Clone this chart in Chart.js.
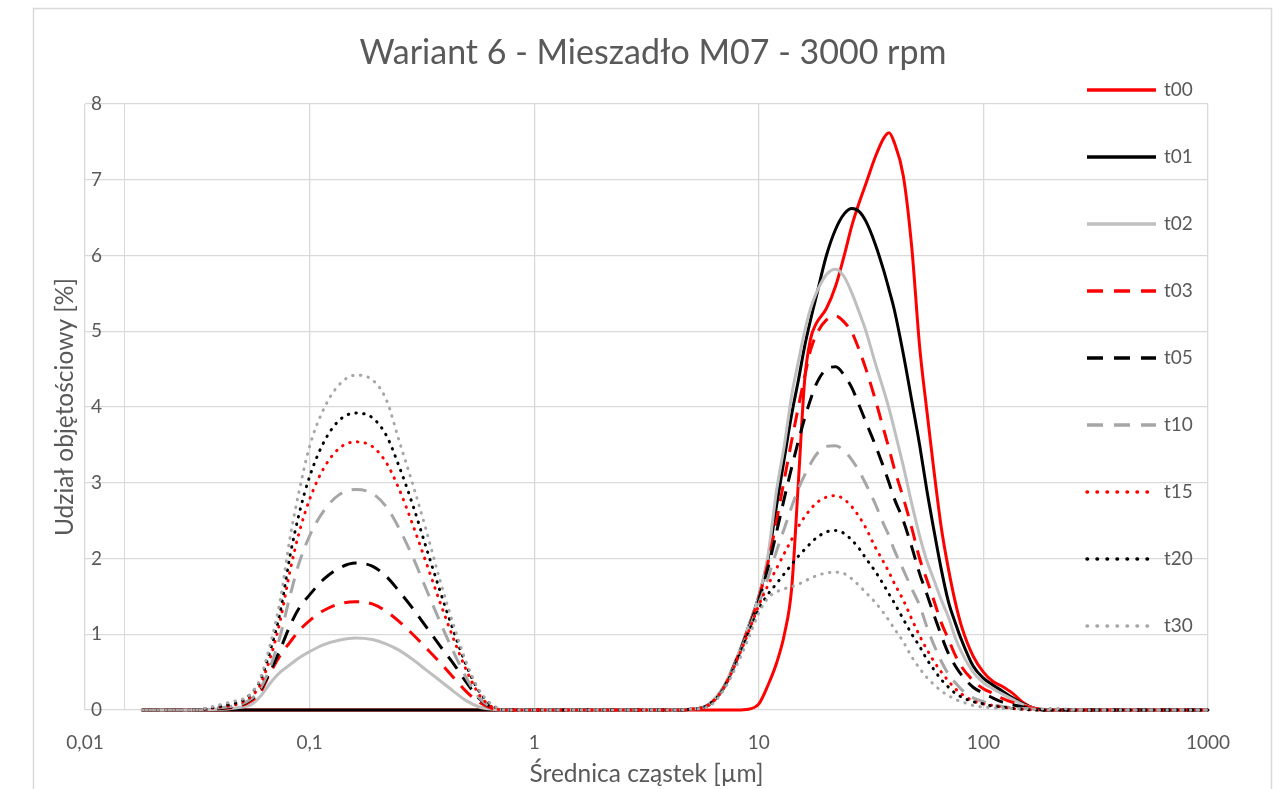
<!DOCTYPE html>
<html><head><meta charset="utf-8">
<script src="https://cdn.jsdelivr.net/npm/chart.js@4.4.1/dist/chart.umd.min.js"></script>
<style>html,body{margin:0;padding:0;background:#fff;overflow:hidden}canvas{display:block}</style>
</head><body>
<canvas id="c" width="1273" height="789"></canvas>
<script>
// particle sizes [µm]
const sizes = [
  0.018, 0.03, 0.04, 0.045, 0.05, 0.055, 0.06, 0.067, 0.074, 0.082, 0.09, 0.1, 0.115, 0.135,
  0.16, 0.19, 0.22, 0.25, 0.29, 0.33, 0.38, 0.44, 0.5, 0.57, 0.65, 0.75, 1, 2,
  4, 5, 6, 7, 8, 9, 10, 11, 12, 13, 14, 15, 16, 17, 18,
  20, 22, 24, 26, 28, 30,
  33, 36, 38, 40,
  44, 48, 52, 56, 60,
  65, 70, 75, 80,
  90, 100, 110, 120,
  135, 150, 170, 200,
  300, 500, 1000
];
const seriesNames = ['t00','t01','t02','t03','t05','t10','t15','t20','t30'];

const t00 = [
  0,0,0,0,0,0,0,0,0,0,0,0,0,0,
  0,0,0,0,0,0,0,0,0,0,0,0,0,0,
  0,0,0,0,0, 0.01,0.08,0.33,0.62,1.0, 1.6,3.0,4.35,4.9,5.1,
  5.3,5.6,6.0,6.4,6.7,6.95,
  7.3,7.55,7.62,7.5,
  7.05,6.1,4.8,3.95,3.2,
  2.4,1.85,1.42,1.1,
  0.71,0.5,0.38,0.32,
  0.22,0.1,0.02,0,
  0,0,0
];
const t01 = [
  0,0,0,0,0,0,0,0,0,0,0,0,0,0,
  0,0,0,0,0,0,0,0,0,0,0,0,0,0,
  0,0.01,0.07,0.3,0.68, 1.1,1.5,2.0,2.7,3.33, 3.9,4.35,4.8,5.15,5.45,
  6.0,6.35,6.55,6.62,6.58,6.45,
  6.15,5.8,5.55,5.3,
  4.7,4.08,3.5,2.9,2.4,
  1.85,1.42,1.15,0.92,
  0.58,0.42,0.33,0.26,
  0.16,0.08,0.02,0,
  0,0,0
];
const t02 = [
  0,0,0.01,0.02,0.04,0.07,0.17,0.36,0.5,0.6,0.69,0.77,0.86,0.92,
  0.95,0.93,0.87,0.79,0.66,0.53,0.39,0.24,0.12,0.04,0.01,0,0,0,
  0,0.01,0.08,0.32,0.7, 1.1,1.5,2.05,2.9,3.5, 4.15,4.6,5.0,5.3,5.5,
  5.75,5.82,5.72,5.5,5.25,5.0,
  4.58,4.22,3.98,3.72,
  3.22,2.72,2.3,1.97,1.73,
  1.45,1.22,0.95,0.76,
  0.5,0.36,0.28,0.22,
  0.14,0.07,0.02,0,
  0,0,0
];
const t03 = [
  0,0,0.02,0.03,0.06,0.12,0.22,0.5,0.72,0.9,1.05,1.18,1.31,1.4,
  1.43,1.4,1.3,1.17,0.99,0.82,0.63,0.42,0.24,0.1,0.02,0,0,0,
  0,0.01,0.07,0.3,0.68, 1.08,1.48,1.95,2.5,3.05, 3.55,4.0,4.4,4.75,4.95,
  5.15,5.2,5.12,4.98,4.75,4.5,
  4.1,3.7,3.45,3.2,
  2.8,2.4,2.0,1.72,1.46,
  1.15,0.93,0.72,0.57,
  0.39,0.28,0.22,0.16,
  0.1,0.06,0.02,0,
  0,0,0
];
const t05 = [
  0,0,0.02,0.04,0.07,0.14,0.25,0.52,0.8,1.12,1.35,1.52,1.72,1.87,
  1.94,1.9,1.76,1.57,1.33,1.1,0.85,0.6,0.36,0.15,0.03,0,0,0,
  0,0.01,0.07,0.3,0.68, 1.07,1.45,1.88,2.35,2.8, 3.2,3.55,3.85,4.1,4.3,
  4.5,4.53,4.42,4.25,4.02,3.8,
  3.5,3.2,3.0,2.8,
  2.5,2.15,1.8,1.53,1.27,
  0.98,0.74,0.58,0.46,
  0.3,0.22,0.16,0.11,
  0.07,0.04,0.01,0,
  0,0,0
];
const t10 = [
  0,0,0.03,0.05,0.08,0.15,0.27,0.58,0.98,1.52,1.95,2.3,2.62,2.84,
  2.91,2.86,2.68,2.4,2.0,1.6,1.17,0.75,0.42,0.16,0.03,0,0,0,
  0,0.01,0.07,0.3,0.67, 1.05,1.4,1.75,2.1,2.4, 2.68,2.92,3.1,3.25,3.37,
  3.48,3.49,3.42,3.3,3.15,2.98,
  2.72,2.45,2.3,2.12,
  1.85,1.6,1.38,1.1,0.87,
  0.64,0.47,0.36,0.27,
  0.16,0.11,0.07,0.05,
  0.03,0.02,0.01,0,
  0,0,0
];
const t15 = [
  0,0,0.04,0.06,0.1,0.18,0.32,0.7,1.18,1.85,2.35,2.78,3.18,3.45,
  3.54,3.48,3.26,2.92,2.42,1.95,1.43,0.92,0.52,0.2,0.04,0,0,0,
  0,0.01,0.07,0.3,0.66, 1.03,1.38,1.65,1.87,2.07, 2.25,2.42,2.55,2.65,2.73,
  2.81,2.83,2.78,2.68,2.55,2.4,
  2.15,1.95,1.82,1.68,
  1.45,1.2,0.98,0.8,0.65,
  0.5,0.38,0.28,0.21,
  0.12,0.08,0.06,0.04,
  0.02,0.01,0,0,
  0,0,0
];
const t20 = [
  0,0,0.05,0.08,0.12,0.22,0.38,0.8,1.3,2.05,2.6,3.08,3.52,3.82,
  3.92,3.86,3.62,3.22,2.68,2.15,1.58,1.02,0.58,0.24,0.06,0,0,0,
  0,0.01,0.07,0.29,0.65, 1.02,1.33,1.53,1.67,1.8, 1.92,2.03,2.12,2.2,2.27,
  2.35,2.37,2.33,2.24,2.13,2.0,
  1.83,1.65,1.53,1.42,
  1.2,1.0,0.84,0.67,0.54,
  0.4,0.3,0.22,0.17,
  0.11,0.08,0.05,0.04,
  0.02,0.01,0,0,
  0,0,0
];
const t30 = [
  0,0,0.07,0.11,0.14,0.22,0.4,0.88,1.45,2.29,2.9,3.48,3.96,4.29,
  4.42,4.36,4.09,3.56,2.95,2.38,1.72,1.1,0.62,0.26,0.07,0,0,0,
  0,0.01,0.05,0.27,0.6, 0.95,1.28,1.48,1.56,1.6, 1.63,1.66,1.7,1.74,1.77,
  1.81,1.82,1.8,1.73,1.64,1.55,
  1.42,1.28,1.18,1.08,
  0.9,0.7,0.55,0.43,0.34,
  0.25,0.19,0.14,0.11,
  0.06,0.04,0.03,0.02,
  0.02,0.02,0.01,0.02,
  0,0,0
];
const seriesValues = [t00, t01, t02, t03, t05, t10, t15, t20, t30];

const xTickValues = [0.01, 0.1, 1, 10, 100, 1000];
const xTickLabels = ['0,01', '0,1', '1', '10', '100', '1000'];
const yTickValues = [0, 1, 2, 3, 4, 5, 6, 7, 8];

const chartTitle = 'Wariant 6 - Mieszadło M07 - 3000 rpm';
const xTitle = 'Średnica cząstek [µm]';
const yTitle = 'Udział objętościowy [%]';

// ---- styles ----
const FONT = 'Lato, "Open Sans", sans-serif';
const TXT = '#595959';
const GRID = '#d9d9d9';
const RED = '#ff0000', BLACK = '#000000', LGRAY = '#bfbfbf', GRAY = '#a6a6a6';
const DASH = [15, 10], DOT = [0.5, 7.3];
const styles = [
  {color: RED, dash: [], cap: 'butt'},
  {color: BLACK, dash: [], cap: 'butt'},
  {color: LGRAY, dash: [], cap: 'butt'},
  {color: RED, dash: DASH, cap: 'butt'},
  {color: BLACK, dash: DASH, cap: 'butt'},
  {color: GRAY, dash: DASH, cap: 'butt'},
  {color: RED, dash: DOT, cap: 'round'},
  {color: BLACK, dash: DOT, cap: 'round'},
  {color: GRAY, dash: DOT, cap: 'round'}
];

const datasets = seriesNames.map((name, i) => ({
  label: name,
  data: sizes.map((s, j) => ({x: s, y: seriesValues[i][j]})),
  borderColor: styles[i].color,
  backgroundColor: styles[i].color,
  borderWidth: 3,
  borderDash: styles[i].dash,
  borderCapStyle: styles[i].cap,
  borderJoinStyle: 'round',
  pointRadius: 0,
  pointHoverRadius: 0,
  fill: false,
  cubicInterpolationMode: 'monotone',
  clip: 8,
  order: seriesNames.length - i
}));

const decor = {
  id: 'decor',
  beforeDraw(chart) {
    const ctx = chart.ctx;
    ctx.save();
    ctx.fillStyle = '#ffffff';
    ctx.fillRect(0, 0, chart.width, chart.height);
    ctx.strokeStyle = GRID;
    ctx.lineWidth = 1.5;
    ctx.strokeRect(33.5, 8.5, 1238, 820);
    ctx.restore();
  },
  beforeDatasetsDraw(chart) {
    const {ctx, chartArea: a} = chart;
    ctx.save();
    ctx.strokeStyle = GRID;
    ctx.lineWidth = 1;
    ctx.beginPath();
    ctx.moveTo(a.left + 39.5, a.top);
    ctx.lineTo(a.left + 39.5, a.bottom);
    ctx.stroke();
    ctx.restore();
  },
  afterDraw(chart) {
    const ctx = chart.ctx;
    ctx.save();
    ctx.fillStyle = TXT;
    ctx.font = '34px ' + FONT;
    ctx.textAlign = 'center';
    ctx.textBaseline = 'middle';
    ctx.fillText(chartTitle, 653, 53);
    ctx.font = '19px ' + FONT;
    ctx.textAlign = 'left';
    seriesNames.forEach((name, i) => {
      const y = 90 + 67 * i;
      ctx.strokeStyle = styles[i].color;
      ctx.lineWidth = 3.5;
      ctx.setLineDash(styles[i].dash.length ? (styles[i].cap === 'round' ? [0.5, 9.5] : [16, 11]) : []);
      ctx.lineCap = styles[i].cap;
      ctx.beginPath();
      ctx.moveTo(1087, y);
      ctx.lineTo(1156, y);
      ctx.stroke();
      ctx.fillStyle = TXT;
      ctx.fillText(name, 1164, y);
    });
    ctx.restore();
  }
};

new Chart(document.getElementById('c'), {
  type: 'line',
  data: {datasets},
  plugins: [decor],
  options: {
    responsive: false,
    animation: false,
    devicePixelRatio: 1,
    layout: {padding: {top: 104, right: 65, bottom: 0, left: 0}},
    plugins: {legend: {display: false}, title: {display: false}, tooltip: {enabled: false}},
    scales: {
      x: {
        type: 'logarithmic',
        min: 0.01, max: 1000,
        afterBuildTicks: s => { s.ticks = xTickValues.map(v => ({value: v})); },
        afterFit: s => { s.height = 79; },
        ticks: {
          callback: (v, i) => xTickLabels[i],
          font: {family: FONT, size: 19}, color: TXT, padding: 21,
          maxRotation: 0, autoSkip: false
        },
        grid: {color: GRID, lineWidth: 1.3, drawTicks: false},
        border: {display: false},
        title: {display: true, text: xTitle, color: TXT, font: {family: FONT, size: 24.5}, padding: {top: 0, bottom: 0}}
      },
      y: {
        min: 0, max: 8,
        afterBuildTicks: s => { s.ticks = yTickValues.map(v => ({value: v})); },
        afterFit: s => { s.width = 85; },
        ticks: {font: {family: FONT, size: 19}, color: TXT, mirror: true, padding: 6},
        grid: {color: GRID, lineWidth: 1.3, drawTicks: false},
        border: {display: false},
        title: {display: true, text: yTitle, color: TXT, font: {family: FONT, size: 24.5}, padding: {top: 50, bottom: 0}}
      }
    }
  }
});
</script>
</body></html>
